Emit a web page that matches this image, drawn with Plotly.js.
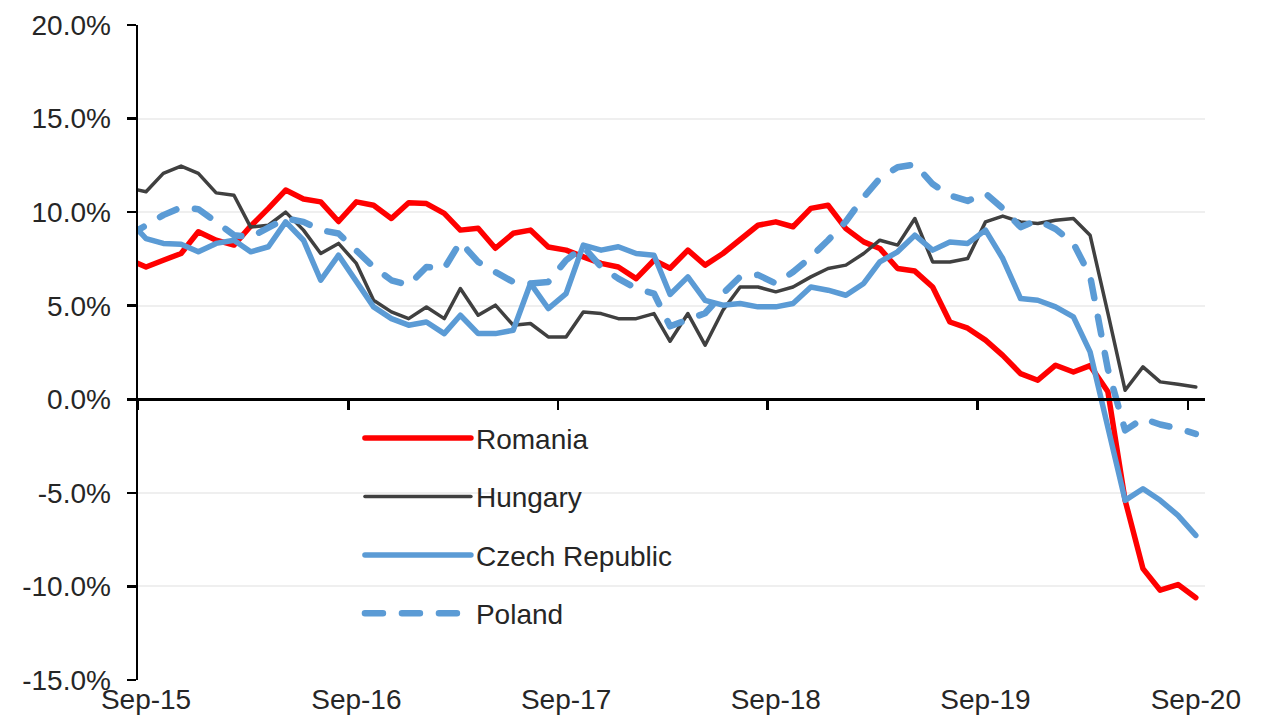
<!DOCTYPE html>
<html>
<head>
<meta charset="utf-8">
<script src="https://cdn.plot.ly/plotly-3.0.1.min.js"></script>
<style>
  html, body { margin: 0; padding: 0; background: #fff; }
  #chart { width: 1263px; height: 728px; }
  .scatterlayer path.js-line, .legend path.js-line { stroke-linecap: round; stroke-linejoin: round; }
</style>
</head>
<body>
<div id="chart"></div>
<script>
// Monthly observations (first one, Aug-15, lies just left of the axis start)
const months = ["2015-08","2015-09","2015-10","2015-11","2015-12",
  "2016-01","2016-02","2016-03","2016-04","2016-05","2016-06","2016-07","2016-08","2016-09","2016-10","2016-11","2016-12",
  "2017-01","2017-02","2017-03","2017-04","2017-05","2017-06","2017-07","2017-08","2017-09","2017-10","2017-11","2017-12",
  "2018-01","2018-02","2018-03","2018-04","2018-05","2018-06","2018-07","2018-08","2018-09","2018-10","2018-11","2018-12",
  "2019-01","2019-02","2019-03","2019-04","2019-05","2019-06","2019-07","2019-08","2019-09","2019-10","2019-11","2019-12",
  "2020-01","2020-02","2020-03","2020-04","2020-05","2020-06","2020-07","2020-08","2020-09"];

const romania = [7.47, 7.07, 7.43, 7.79, 8.95, 8.5, 8.24, 9.25, 10.2, 11.18, 10.7, 10.55, 9.5, 10.55, 10.37, 9.66, 10.5, 10.46, 9.93, 9.04, 9.14, 8.07, 8.87, 9.04, 8.14, 7.97, 7.61, 7.26, 7.07, 6.45, 7.43, 7.0, 7.97, 7.17, 7.79, 8.5, 9.3, 9.48, 9.22, 10.2, 10.37, 9.12, 8.41, 8.06, 6.99, 6.85, 6.0, 4.13, 3.8, 3.16, 2.35, 1.37, 1.02, 1.82, 1.46, 1.8, 0.4, -5.4, -9.05, -10.2, -9.9, -10.6];
const hungary = [11.29, 11.09, 12.07, 12.46, 12.07, 11.03, 10.9, 9.2, 9.3, 10.0, 9.04, 7.79, 8.33, 7.26, 5.29, 4.67, 4.31, 4.93, 4.31, 5.92, 4.49, 5.03, 3.96, 4.05, 3.33, 3.33, 4.67, 4.58, 4.31, 4.31, 4.58, 3.1, 4.58, 2.89, 4.76, 6.0, 6.0, 5.74, 6.0, 6.54, 6.99, 7.17, 7.79, 8.5, 8.24, 9.66, 7.34, 7.34, 7.52, 9.48, 9.79, 9.48, 9.39, 9.57, 9.66, 8.77, 4.6, 0.48, 1.73, 0.93, 0.8, 0.66];
const czech = [9.59, 8.59, 8.33, 8.29, 7.88, 8.33, 8.5, 7.88, 8.15, 9.48, 8.5, 6.36, 7.7, 6.36, 4.94, 4.31, 3.96, 4.13, 3.51, 4.49, 3.51, 3.51, 3.69, 6.19, 4.85, 5.65, 8.24, 7.97, 8.15, 7.79, 7.7, 5.6, 6.54, 5.29, 5.03, 5.12, 4.94, 4.94, 5.12, 6.0, 5.83, 5.56, 6.19, 7.34, 7.88, 8.77, 7.97, 8.41, 8.33, 9.04, 7.52, 5.38, 5.29, 4.94, 4.4, 2.53, -1.5, -5.4, -4.78, -5.4, -6.2, -7.27];
const poland = [8.73, 9.3, 9.84, 10.25, 10.16, 9.48, 8.77, 8.66, 9.14, 9.66, 9.48, 9.04, 8.86, 7.97, 7.07, 6.36, 6.1, 7.07, 6.99, 8.41, 7.34, 6.8, 6.27, 6.19, 6.27, 7.43, 8.15, 7.07, 6.45, 5.92, 5.65, 3.9, 4.25, 4.6, 5.65, 6.55, 6.65, 6.19, 6.8, 7.6, 8.5, 9.5, 10.8, 11.8, 12.4, 12.55, 11.5, 10.9, 10.6, 11.0, 10.2, 9.2, 9.57, 9.1, 8.33, 6.6, 1.6, -1.66, -1.03, -1.35, -1.55, -1.85];

const xTickLabels = ["Sep-15","Sep-16","Sep-17","Sep-18","Sep-19","Sep-20"];
const xTickMonths = ["2015-09","2016-09","2017-09","2018-09","2019-09","2020-09"];
const yTickVals = [-15, -10, -5, 0, 5, 10, 15, 20];
const yTickText = ["-15.0%","-10.0%","-5.0%","0.0%","5.0%","10.0%","15.0%","20.0%"];

const xDates = months.map(m => m + "-15");
const labelDates = xTickMonths.map(m => m + "-15");
const markDates = xTickMonths.map(m => m + "-01");
const xRange = ["2015-09-01", "2020-10-01"];

const traces = [
  {name: "Romania", x: xDates, y: romania, type: "scatter", mode: "lines",
   line: {color: "#FF0000", width: 5.5}, legendgroup: "a"},
  {name: "Hungary", x: xDates, y: hungary, type: "scatter", mode: "lines",
   line: {color: "#404040", width: 3.5}, legendgroup: "b"},
  {name: "Czech Republic", x: xDates, y: czech, type: "scatter", mode: "lines",
   line: {color: "#5B9BD5", width: 5.5}, legendgroup: "c"},
  {name: "Poland", x: xDates, y: poland, type: "scatter", mode: "lines",
   line: {color: "#5B9BD5", width: 6.5, dash: "18px,19px"}, legendgroup: "d"}
];

const layout = {
  width: 1263, height: 728,
  margin: {l: 138, r: 58, t: 25, b: 48},
  paper_bgcolor: "#ffffff", plot_bgcolor: "#ffffff",
  font: {family: "Liberation Sans, Arial, sans-serif", color: "#262626", size: 28},
  showlegend: true,
  legend: {
    x: 0.208, y: 0.407, xanchor: "left", yanchor: "top",
    bgcolor: "rgba(0,0,0,0)", traceorder: "grouped", tracegroupgap: 19,
    itemwidth: 106, font: {size: 28, color: "#262626"}
  },
  xaxis: {
    type: "date", range: xRange,
    tickvals: labelDates, ticktext: xTickLabels,
    showline: false, ticks: "", showgrid: false, zeroline: false,
    tickfont: {size: 28, color: "#262626"}, fixedrange: true
  },
  xaxis2: {
    type: "date", range: xRange, overlaying: "x", anchor: "free",
    position: 15 / 35, side: "bottom",
    tickvals: markDates, showticklabels: false,
    showline: true, linecolor: "#000000", linewidth: 2.5,
    ticks: "outside", ticklen: 9, tickwidth: 2.5, tickcolor: "#000000",
    showgrid: false, zeroline: false
  },
  yaxis: {
    range: [-15, 20],
    tickvals: yTickVals, ticktext: yTickText,
    showline: true, linecolor: "#000000", linewidth: 2.5,
    ticks: "outside", ticklen: 9, tickwidth: 2.5, tickcolor: "#000000",
    showgrid: true, gridcolor: "#EFEFEF", gridwidth: 2,
    zeroline: false, ticklabelstandoff: 10,
    tickfont: {size: 28, color: "#262626"}
  }
};

// invisible trace to activate xaxis2
traces.push({x: [xRange[0]], y: [0], xaxis: "x2", yaxis: "y", type: "scatter", mode: "markers",
  marker: {opacity: 0}, showlegend: false, hoverinfo: "skip"});

Plotly.newPlot("chart", traces, layout, {displayModeBar: false, staticPlot: true});
</script>
</body>
</html>
